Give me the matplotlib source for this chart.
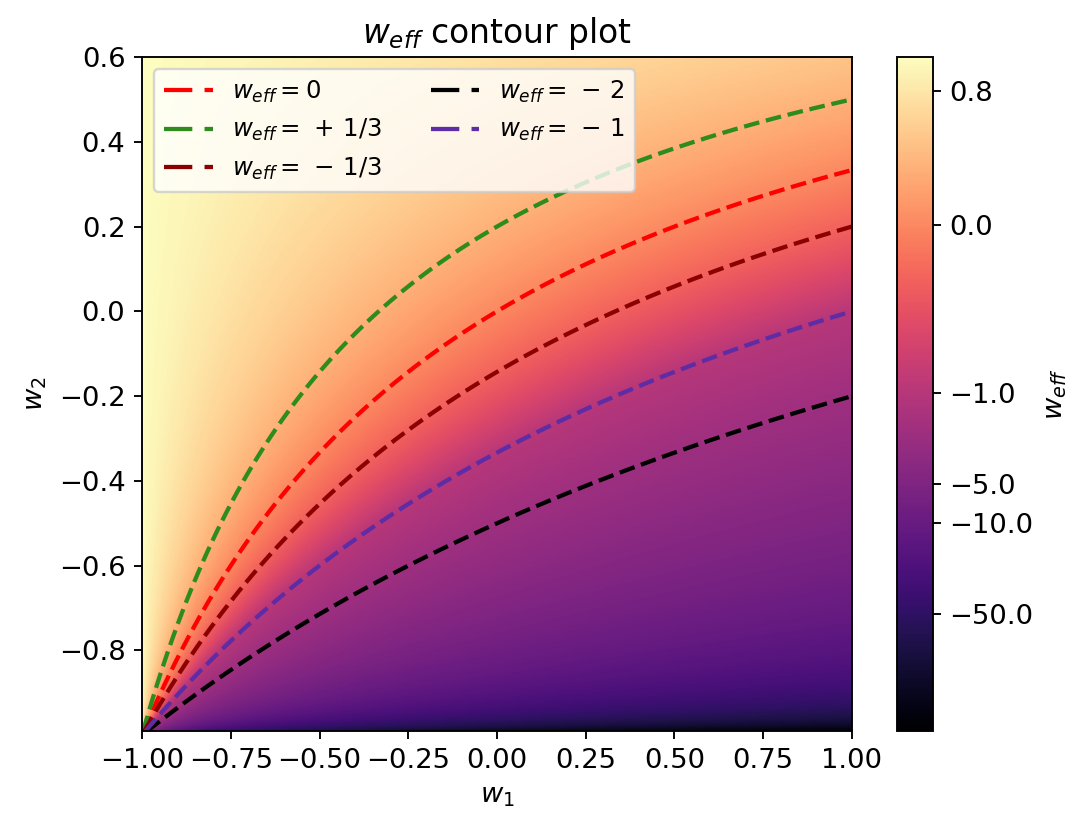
import matplotlib as mpl
mpl.use('Agg')
import matplotlib.pyplot as plt
import matplotlib.colors as mcolors
import numpy as np

plt.rcParams['font.size'] = 11.6

# grid extent of the two equation-of-state parameters
w1_range = [-1.0, 1.0]
w2_range = [-0.99, 0.6]

# highlighted w_eff levels (legend order)
levels = [0.0, 1/3, -1/3, -2.0, -1.0]
level_labels = [r'$w_{eff} = 0$', r'$w_{eff} =\,+\,1/3$', r'$w_{eff} =\,-\,1/3$',
                r'$w_{eff} =\,-\,2$', r'$w_{eff} =\,-\,1$']
level_colors = ['red', '#2e8b1e', 'darkred', 'black', '#5e2ca5']

cbar_ticks = [0.8, 0.0, -1.0, -5.0, -10.0, -50.0]
cbar_ticklabels = ['0.8', '0.0', '\u22121.0', '\u22125.0', '\u221210.0', '\u221250.0']
x_ticks = [-1.0, -0.75, -0.5, -0.25, 0.0, 0.25, 0.5, 0.75, 1.0]
y_ticks = [0.6, 0.4, 0.2, 0.0, -0.2, -0.4, -0.6, -0.8]

w1 = np.linspace(w1_range[0], w1_range[1], 500)
w2 = np.linspace(w2_range[0], w2_range[1], 500)
W1, W2 = np.meshgrid(w1, w2)
w_eff = (2*W2 - W1 + W1*W2) / (1 + W2)

fig = plt.figure(figsize=(1083/170, 820/170), dpi=170)
ax = fig.add_axes([142/1083, 1 - 731/820, 710/1083, 674/820])
cax = fig.add_axes([897/1083, 1 - 731/820, 36/1083, 674/820])

norm = mcolors.SymLogNorm(linthresh=1.0, linscale=1.16, vmin=w_eff.min(), vmax=1.0, base=10)
mesh = ax.pcolormesh(W1, W2, w_eff, cmap='magma', norm=norm, shading='gouraud')

handles = []
for lev, col in zip(levels, level_colors):
    cs = ax.contour(W1, W2, w_eff, levels=[lev], colors=[col],
                    linestyles='--', linewidths=1.8)
    h, _ = cs.legend_elements()
    handles.append(h[0])

ax.legend(handles, level_labels, loc='upper left', ncol=2, fontsize=10.3)
ax.set_xlim(w1_range)
ax.set_ylim(w2_range)
ax.set_xticks(x_ticks)
ax.set_yticks(y_ticks)
ax.set_xlabel(r'$w_1$')
ax.set_ylabel(r'$w_2$')
ax.set_title(r'$w_{eff}$ contour plot')

cbar = fig.colorbar(mesh, cax=cax)
cbar.set_ticks(cbar_ticks)
cbar.set_ticklabels(cbar_ticklabels)
cbar.ax.minorticks_off()
cbar.set_label(r'$w_{eff}$')

fig.savefig('out.png', dpi=170)
